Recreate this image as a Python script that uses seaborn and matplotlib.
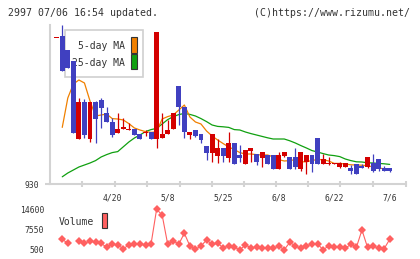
import numpy as np
import pandas as pd
import matplotlib
matplotlib.use("Agg")
import matplotlib.pyplot as plt
import seaborn as sns
from matplotlib.patches import Rectangle

# ---------------- data ----------------
opens = [1660, 1672, 1600, 1545, 1154, 1339, 1154, 1339, 1349, 1284,
         1242, 1187, 1204, 1200, 1205, 1179, 1185, 1192, 1154, 1159,
         1179, 1204, 1420, 1314, 1175, 1200, 1180, 1120, 1087, 1072,
         1109, 1062, 1134, 1075, 1032, 1097, 1080, 1062, 1075, 1075,
         1005, 1070, 1064, 1064, 1005, 1042, 1075, 1159, 1029, 1030,
         1032, 1017, 1017, 1009, 1030, 1020, 1017, 1034, 1054, 1009, 1009]
highs = [1660, 1725, 1600, 1545, 1359, 1355, 1339, 1345, 1359, 1314,
         1260, 1284, 1259, 1237, 1205, 1179, 1200, 1192, 1689, 1284,
         1250, 1284, 1420, 1314, 1189, 1200, 1180, 1120, 1180, 1154,
         1109, 1189, 1134, 1125, 1100, 1112, 1080, 1092, 1075, 1075,
         1092, 1092, 1064, 1109, 1089, 1075, 1075, 1159, 1080, 1067,
         1037, 1042, 1034, 1025, 1030, 1030, 1064, 1080, 1054, 1020, 1009]
lows = [1660, 1496, 1508, 1187, 1154, 1160, 1142, 1134, 1212, 1242,
        1163, 1187, 1204, 1200, 1175, 1155, 1170, 1154, 1109, 1159,
        1179, 1204, 1225, 1159, 1154, 1166, 1134, 1050, 1042, 1034,
        1042, 1042, 1032, 1042, 1032, 1042, 1025, 1017, 1029, 1005,
        1005, 1064, 1004, 1004, 997, 980, 992, 1029, 1029, 1025,
        1032, 1012, 1017, 980, 980, 1009, 1009, 992, 997, 997, 992]
closes = [1660, 1496, 1508, 1187, 1339, 1177, 1339, 1257, 1312, 1242,
          1175, 1205, 1214, 1205, 1175, 1155, 1187, 1154, 1689, 1179,
          1200, 1284, 1314, 1189, 1189, 1172, 1152, 1087, 1180, 1109,
          1072, 1134, 1032, 1062, 1100, 1112, 1042, 1092, 1029, 1005,
          1075, 1092, 1005, 1017, 1089, 1075, 1029, 1029, 1055, 1037,
          1037, 1037, 1034, 997, 980, 1009, 1064, 997, 1004, 997, 997]

ma5 = [np.nan, 1213, 1360, 1430, 1450, 1435, 1345, 1270, 1275, 1280,
       1257, 1255, 1250, 1232, 1210, 1200, 1192, 1188, 1191, 1255,
       1267, 1275, 1300, 1325, 1265, 1240, 1230, 1195, 1170, 1150,
       1132, 1115, 1102, 1087, 1080, 1080, 1077, 1075, 1075, 1066,
       1052, 1045, 1047, 1052, 1041, 1041, 1048, 1052, 1052, 1045,
       1033, 1033, 1030, 1026, 1025, 1024, 1021, 1016, 1010, 1006, 1003]
ma25 = [np.nan, 966, 985, 1000, 1015, 1025, 1035, 1047, 1065, 1077,
        1087, 1092, 1116, 1140, 1160, 1175, 1192, 1202, 1208, 1230,
        1252, 1267, 1277, 1283, 1278, 1270, 1257, 1242, 1225, 1218,
        1216, 1213, 1202, 1200, 1190, 1182, 1175, 1168, 1161, 1155,
        1155, 1155, 1146, 1135, 1122, 1110, 1097, 1090, 1082, 1075,
        1072, 1067, 1055, 1047, 1041, 1040, 1036, 1035, 1033, 1031, 1028]

volume = [np.nan, 4025, 2615, np.nan, 3426, 2615, 3426, 2967, 2615, 1205,
          2368, 2016, 711, 2016, 2368, 2368, 2016, 2368, 14600, 12591,
          2262, 3426, 2368, 6140, 1663, 500, 1663, 3778, 2262, 2615,
          1064, 1663, 1205, 350, 2016, 1064, 1205, 852, 852, 852,
          1663, 350, 2967, 1663, 852, 1663, 2368, 2368, 350, 1663,
          1205, 1205, 852, 2262, 1205, 7303, 1205, 1663, 852, 711, 4025]

date_labels = ["4/20", "5/8", "5/25", "6/8", "6/22", "7/6"]
date_index = [10, 20, 30, 40, 50, 60]
vol_ticks = [500, 7550, 14600]

# ---------------- layout helpers ----------------
W, H = 420, 259
X0, DX = 56.7, 5.55          # pixel of first candle, pixel step
def fx(p): return p / W
def fy(p): return 1 - p / H
def px2i(p): return (p - X0) / DX

RED, BLUE = "#d40000", "#4040c0"
GRID = "#d3d3d3"
TXT = "#333333"
VOLC = "#ff6060"

sns.set_theme(style="white")
plt.rcParams["font.family"] = ["DejaVu Sans Mono", "DejaVu Sans"]

fig = plt.figure(figsize=(4.2, 2.59), dpi=100)

# ---------------- main price axes ----------------
ax = fig.add_axes([fx(50), fy(184), fx(406) - fx(50), fy(25) - fy(184)])
ax.set_xlim(px2i(50), px2i(406))
ax.set_ylim(930, 930 + 159 * 5)
ax.set_facecolor("white")

idx = np.arange(len(opens))
o = np.array(opens, float); c = np.array(closes, float)
h = np.array(highs, float); l = np.array(lows, float)
up = c >= o
cols = np.where(up, RED, BLUE)
bottoms = np.minimum(o, c)
heights = np.maximum(np.abs(c - o), 5)
ax.vlines(idx, l, h, colors=cols, linewidth=0.9, zorder=3)
ax.bar(idx, heights, bottom=bottoms, width=0.9, color=cols, linewidth=0, zorder=3.5)

ma_df = pd.DataFrame({"i": idx, "ma5": ma5, "ma25": ma25}).dropna()
sns.lineplot(data=ma_df, x="i", y="ma25", ax=ax, color="#10a010", linewidth=0.9, zorder=2.5)
sns.lineplot(data=ma_df, x="i", y="ma5", ax=ax, color="#f08000", linewidth=0.9, zorder=2.6)
ax.set_xlabel(""); ax.set_ylabel("")

for s in ["top", "right"]:
    ax.spines[s].set_visible(False)
for s in ["left", "bottom"]:
    ax.spines[s].set_color(GRID)
    ax.spines[s].set_linewidth(1.5)

tick_px = [82, 115, 147, 180, 212, 244, 276, 308, 340, 373, 406]
ax.set_xticks([px2i(p) for p in tick_px])
ax.set_xticklabels([])
ax.tick_params(axis="x", which="major", direction="inout", length=4.8, width=1.5,
               color=GRID, bottom=True)
ax.set_xticks(date_index, date_labels, minor=True)
ax.tick_params(axis="x", which="minor", length=0, pad=7, labelsize=5.8, labelcolor=TXT)
ax.set_yticks([930], ["930"])
ax.tick_params(axis="y", length=3.6, width=1.5, color=GRID, pad=4, labelsize=5.8,
               labelcolor=TXT, left=True)

# legend (beneath candles)
ax.add_artist(Rectangle((fx(65), fy(77)), fx(143) - fx(65), fy(30) - fy(77),
                        transform=fig.transFigure, facecolor="white", edgecolor="#d0d0d0",
                        linewidth=1.2, zorder=1, clip_on=False))
ax.text(fx(125), fy(46), "5-day MA", transform=fig.transFigure, ha="right", va="center",
        fontsize=7, color=TXT, zorder=1.1)
ax.text(fx(125), fy(63.3), "25-day MA", transform=fig.transFigure, ha="right", va="center",
        fontsize=7, color=TXT, zorder=1.1)
ax.add_artist(Rectangle((fx(131), fy(53.3)), fx(137.3) - fx(131), fy(37.3) - fy(53.3),
                        transform=fig.transFigure, facecolor="#f08000", edgecolor="#333333",
                        linewidth=0.8, zorder=1.1, clip_on=False))
ax.add_artist(Rectangle((fx(131), fy(69.3)), fx(137.3) - fx(131), fy(54.3) - fy(69.3),
                        transform=fig.transFigure, facecolor="#10a010", edgecolor="#333333",
                        linewidth=0.8, zorder=1.1, clip_on=False))

# ---------------- volume axes ----------------
axv = fig.add_axes([fx(50), fy(254), fx(406) - fx(50), fy(204) - fy(254)])
axv.set_xlim(px2i(50), px2i(406))
axv.set_ylim(500 - (254 - 249.3) * 352.5, 500 + (249.3 - 204) * 352.5)
axv.set_facecolor("none")
seg = np.where(idx < 3, 0, 1)
vdf = pd.DataFrame({"i": idx, "v": volume, "seg": seg}).dropna()
sns.lineplot(data=vdf, x="i", y="v", units="seg", estimator=None, ax=axv, color=VOLC,
             linewidth=0.8, marker="D", markersize=3.6, markeredgewidth=0, legend=False)
axv.set_xlabel(""); axv.set_ylabel("")
for s in axv.spines.values():
    s.set_visible(False)
axv.set_xticks([])
axv.set_yticks(vol_ticks, [str(v) for v in vol_ticks])
axv.tick_params(axis="y", length=0, pad=4.3, labelsize=5.8, labelcolor=TXT)

fig.text(fx(58.7), fy(222.3), "Volume", ha="left", va="center", fontsize=7, color=TXT)
fig.add_artist(Rectangle((fx(101.7), fy(228)), fx(107.3) - fx(101.7), fy(213) - fy(228),
                         transform=fig.transFigure, facecolor=VOLC, edgecolor="#333333",
                         linewidth=0.8))

# ---------------- header ----------------
fig.text(fx(8), fy(12.7), "2997 07/06 16:54 updated.", ha="left", va="center",
         fontsize=7.1, color=TXT)
fig.text(fx(410), fy(12.7), "(C)https://www.rizumu.net/", ha="right", va="center",
         fontsize=7.1, color=TXT)

fig.savefig("out.png", dpi=100, facecolor="white")
